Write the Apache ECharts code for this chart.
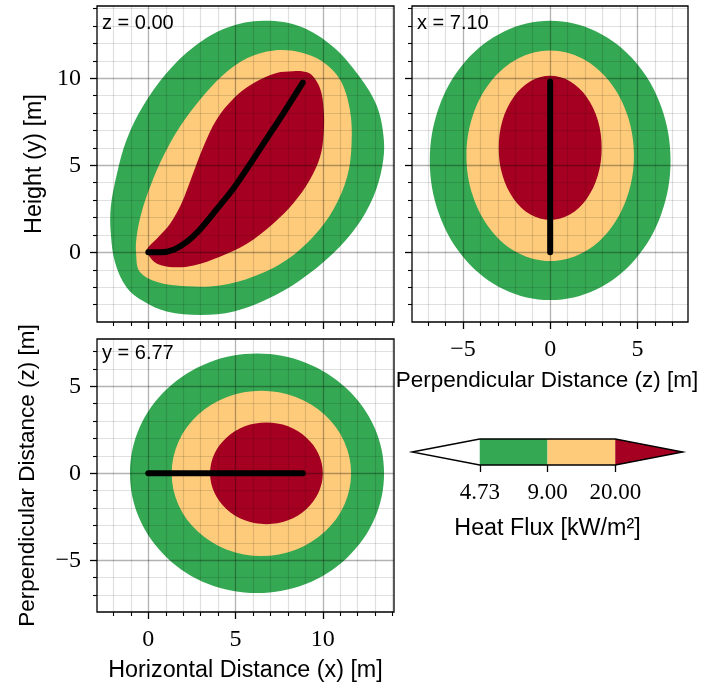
<!DOCTYPE html>
<html>
<head>
<meta charset="utf-8">
<script src="https://cdn.jsdelivr.net/npm/echarts@6/dist/echarts.min.js"></script>
<style>
  body { margin: 0; background: #fff; }
  #main { width: 701px; height: 685px; }
</style>
</head>
<body>
<div id="main"></div>
<script>
// heat flux levels and band colours
const levels = [4.73, 9.00, 20.00];
const bandColors = ['#35a853', '#fecb7b', '#a50021'];

// tick values
const xMajor = [0, 5, 10];
const xMinor = [-2, -1, 1, 2, 3, 4, 6, 7, 8, 9, 11, 12, 13, 14];
const yMajor = [0, 5, 10];
const yMinor = [-3, -2, -1, 1, 2, 3, 4, 6, 7, 8, 9, 11, 12, 13, 14];
const zMajor = [-5, 0, 5];
const zMinor = [-7, -6, -4, -3, -2, -1, 1, 2, 3, 4, 6, 7];

// side view (x, y), z = 0.00
const sideGreen = [[6.6,13.3],[8.7,12.97],[10.6,11.8],[12.1,10.1],[13.1,8.4],[13.5,6.45],[13.4,4.9],[12.9,3.2],[11.95,1.5],[10.6,-0.05],[8.7,-1.6],[6.8,-2.7],[4.9,-3.4],[3.0,-3.6],[1.05,-3.4],[-0.3,-2.8],[-1.25,-2.0],[-1.9,-0.6],[-2.15,1.1],[-2.15,2.6],[-1.8,4.5],[-1.25,6.45],[-0.3,8.4],[1.05,10.3],[2.6,11.8],[4.5,12.9]];
const sideYellow = [[7.2,11.6],[8.7,11.5],[10.0,10.95],[11.0,9.9],[11.55,8.2],[11.65,6.3],[11.4,4.35],[10.6,2.45],[9.45,0.9],[7.9,-0.45],[6.0,-1.4],[4.1,-1.9],[2.2,-1.95],[0.5,-1.7],[-0.5,-1.1],[-0.7,-0.05],[-0.67,0.9],[-0.4,2.25],[0.1,3.75],[0.85,5.5],[1.8,7.2],[2.95,8.75],[4.3,10.2],[5.65,11.15]];
const sideRed = [[8.8,10.4],[9.35,10.2],[9.85,9.4],[10.05,8.2],[10.05,6.85],[9.85,5.5],[9.25,4.15],[8.3,2.8],[7.15,1.65],[5.65,0.5],[4.1,-0.25],[2.6,-0.75],[1.45,-0.85],[0.5,-0.65],[0,-0.15],[-0.1,0.15],[0.5,0.8],[1.25,1.65],[1.9,2.8],[2.5,4.35],[3.15,6.05],[3.9,7.6],[4.9,8.85],[6.0,9.7],[7.35,10.3],[8.3,10.4]];
const sideFlame = [[0,0],[0.7,0],[1.45,0.15],[2.2,0.6],[2.95,1.3],[3.9,2.45],[4.9,3.7],[5.85,5.1],[6.8,6.55],[7.75,8.0],[8.85,9.75]];

// front view (z, y), x = 7.10
const frontGreen = [[0,13.3],[2.64,12.69],[4.88,10.95],[6.37,8.35],[6.9,5.28],[6.37,2.21],[4.88,-0.39],[2.64,-2.13],[0,-2.74],[-2.64,-2.13],[-4.88,-0.39],[-6.37,2.21],[-6.9,5.28],[-6.37,8.35],[-4.88,10.95],[-2.64,12.69]];
const frontYellow = [[0,11.6],[1.84,11.14],[3.39,9.83],[4.43,7.87],[4.8,5.55],[4.43,3.23],[3.39,1.27],[1.84,-0.04],[0,-0.5],[-1.84,-0.04],[-3.39,1.27],[-4.43,3.23],[-4.8,5.55],[-4.43,7.87],[-3.39,9.83],[-1.84,11.14]];
const frontRed = [[0,10.14],[1.13,9.83],[2.09,8.93],[2.73,7.59],[2.95,6.0],[2.73,4.41],[2.09,3.07],[1.13,2.17],[0,1.86],[-1.13,2.17],[-2.09,3.07],[-2.73,4.41],[-2.95,6.0],[-2.73,7.59],[-2.09,8.93],[-1.13,9.83]];
const frontFlame = [[0,0],[0,9.8]];

// top view (x, z), y = 6.77
const topGreen = [[13.51,0],[12.96,2.63],[11.38,4.86],[9.02,6.36],[6.23,6.88],[3.44,6.36],[1.08,4.86],[-0.5,2.63],[-1.05,0],[-0.5,-2.63],[1.08,-4.86],[3.44,-6.36],[6.23,-6.88],[9.02,-6.36],[11.38,-4.86],[12.96,-2.63]];
const topYellow = [[11.62,0],[11.23,1.82],[10.11,3.36],[8.45,4.39],[6.48,4.75],[4.51,4.39],[2.85,3.36],[1.73,1.82],[1.34,0],[1.73,-1.82],[2.85,-3.36],[4.51,-4.39],[6.48,-4.75],[8.45,-4.39],[10.11,-3.36],[11.23,-1.82]];
const topRed = [[10.0,0],[9.75,1.12],[9.05,2.06],[8.01,2.7],[6.77,2.92],[5.53,2.7],[4.49,2.06],[3.79,1.12],[3.54,0],[3.79,-1.12],[4.49,-2.06],[5.53,-2.7],[6.77,-2.92],[8.01,-2.7],[9.05,-2.06],[9.75,-1.12]];
const topFlame = [[0,0],[8.85,0]];

// colorbar cells in index units: low extension, 4.73-9.00, 9.00-20.00, high extension
const cbEdges = [-1, 0, 1, 2, 3];
const cbColors = ['#ffffff', bandColors[0], bandColors[1], bandColors[2]];

const tickFont = { fontFamily: 'Liberation Serif', fontSize: 24, color: '#000' };
const nameFont = { fontFamily: 'Liberation Sans', fontSize: 23.3, color: '#000' };
const longNameFont = { fontFamily: 'Liberation Sans', fontSize: 22.5, color: '#000' };
const titleFont = { fontFamily: 'Liberation Sans', fontSize: 20, fontWeight: 'normal', color: '#000' };

function fmt(v) {
  return v < 0 ? '\u2212' + (-v) : String(v);
}

function axisPair(gridIndex, min, max, major, minor, showLabel, position, name, nameGap, nameStyle) {
  const base = {
    type: 'value', gridIndex: gridIndex, min: min, max: max, position: position, z: 3,
    axisLine: { show: false, onZero: false }
  };
  const majorAxis = Object.assign({}, base, {
    name: name, nameLocation: 'middle', nameGap: nameGap, nameTextStyle: nameStyle || nameFont,
    axisTick: { show: true, customValues: major, length: 7, lineStyle: { color: '#000', width: 1.3 } },
    axisLabel: Object.assign({ show: showLabel, customValues: major, margin: 16, formatter: fmt }, tickFont),
    splitLine: { show: true, lineStyle: { color: 'rgba(0,0,0,0.3)', width: 1.3 } }
  });
  const minorAxis = Object.assign({}, base, {
    axisTick: { show: true, customValues: minor, length: 4, lineStyle: { color: '#000', width: 1.1 } },
    axisLabel: { show: false },
    splitLine: { show: true, lineStyle: { color: 'rgba(0,0,0,0.12)', width: 1.2 } }
  });
  return [majorAxis, minorAxis];
}

function contour(axisIndex, pts, color) {
  return {
    type: 'custom', xAxisIndex: axisIndex, yAxisIndex: axisIndex, silent: true, z: 2,
    data: [0],
    renderItem: function (params, api) {
      return {
        type: 'polygon',
        shape: { points: pts.map(function (p) { return api.coord(p); }), smooth: 0.35 },
        style: { fill: color }
      };
    }
  };
}

function flame(axisIndex, pts) {
  return {
    type: 'line', xAxisIndex: axisIndex, yAxisIndex: axisIndex, data: pts,
    showSymbol: false, smooth: 0.3, silent: true, z: 5,
    lineStyle: { color: '#000', width: 6, cap: 'round' }
  };
}

const gridBox = { show: true, borderColor: '#000', borderWidth: 1.3, backgroundColor: 'transparent', outerBoundsMode: 'none', containLabel: false };

const xAxes = [].concat(
  axisPair(0, -2.94, 14.08, xMajor, xMinor, false, 'bottom', '', 0),
  axisPair(1, -7.92, 7.9, zMajor, zMinor, true, 'bottom', 'Perpendicular Distance (z) [m]', 47,
    Object.assign({ padding: [0, 6, 0, 0] }, longNameFont)),
  axisPair(2, -2.94, 14.08, xMajor, xMinor, true, 'bottom', 'Horizontal Distance (x) [m]', 47),
  [{
    type: 'value', gridIndex: 3, min: -1, max: 3, position: 'bottom',
    name: 'Heat Flux [kW/m\u00b2]', nameLocation: 'middle', nameGap: 52, nameTextStyle: nameFont,
    axisLine: { show: false, onZero: false },
    axisTick: { show: true, customValues: [0, 1, 2], length: 7, lineStyle: { color: '#000', width: 1.3 } },
    axisLabel: Object.assign({ customValues: [0, 1, 2], margin: 16, formatter: function (v) { return levels[v].toFixed(2); } }, tickFont, { fontSize: 23 }),
    splitLine: { show: false }
  }]
);
const yAxes = [].concat(
  axisPair(0, -4.0, 14.15, yMajor, yMinor, true, 'left', 'Height (y) [m]', 51),
  axisPair(1, -4.0, 14.15, yMajor, yMinor, false, 'left', '', 0),
  axisPair(2, -7.97, 7.72, zMajor, zMinor, true, 'left', 'Perpendicular Distance (z) [m]', 58, longNameFont),
  [{ type: 'value', gridIndex: 3, min: 0, max: 1, show: false }]
);

const colorbar = {
  type: 'custom', xAxisIndex: 6, yAxisIndex: 6, silent: true,
  data: cbColors.map(function (c, i) { return i; }),
  renderItem: function (params, api) {
    const i = params.dataIndex;
    const s = cbEdges[i], e = cbEdges[i + 1];
    let pts;
    if (i === 0) pts = [[s, 0.5], [e, 1], [e, 0]];
    else if (i === cbColors.length - 1) pts = [[s, 0], [s, 1], [e, 0.5]];
    else pts = [[s, 0], [s, 1], [e, 1], [e, 0]];
    const children = [{
      type: 'polygon',
      shape: { points: pts.map(function (p) { return api.coord(p); }) },
      style: { fill: cbColors[i] }
    }];
    if (i === cbColors.length - 1) {
      const first = cbEdges[0], last = cbEdges[cbEdges.length - 1];
      const a = cbEdges[1], b = cbEdges[cbEdges.length - 2];
      const outline = [[first, 0.5], [a, 1], [b, 1], [last, 0.5], [b, 0], [a, 0]];
      children.push({
        type: 'polygon',
        shape: { points: outline.map(function (p) { return api.coord(p); }) },
        style: { fill: 'none', stroke: '#000', lineWidth: 1.3 }
      });
    }
    return { type: 'group', children: children };
  }
};

const chart = echarts.init(document.getElementById('main'), null, { renderer: 'canvas' });
chart.setOption({
  animation: false,
  backgroundColor: '#fff',
  title: [
    { text: 'z = 0.00', left: 102, top: 13, padding: 0, textStyle: titleFont },
    { text: 'x = 7.10', left: 417, top: 13, padding: 0, textStyle: titleFont },
    { text: 'y = 6.77', left: 102, top: 343, padding: 0, textStyle: titleFont }
  ],
  grid: [
    Object.assign({ left: 97, top: 6, width: 297, height: 316 }, gridBox),
    Object.assign({ left: 412, top: 6, width: 276, height: 316 }, gridBox),
    Object.assign({ left: 97, top: 339, width: 297, height: 273 }, gridBox),
    { left: 412, top: 439, width: 271, height: 26, show: false, outerBoundsMode: 'none', containLabel: false }
  ],
  xAxis: xAxes,
  yAxis: yAxes,
  series: [
    contour(0, sideGreen, bandColors[0]),
    contour(0, sideYellow, bandColors[1]),
    contour(0, sideRed, bandColors[2]),
    flame(0, sideFlame),
    contour(2, frontGreen, bandColors[0]),
    contour(2, frontYellow, bandColors[1]),
    contour(2, frontRed, bandColors[2]),
    flame(2, frontFlame),
    contour(4, topGreen, bandColors[0]),
    contour(4, topYellow, bandColors[1]),
    contour(4, topRed, bandColors[2]),
    flame(4, topFlame),
    colorbar
  ]
});
</script>
</body>
</html>
